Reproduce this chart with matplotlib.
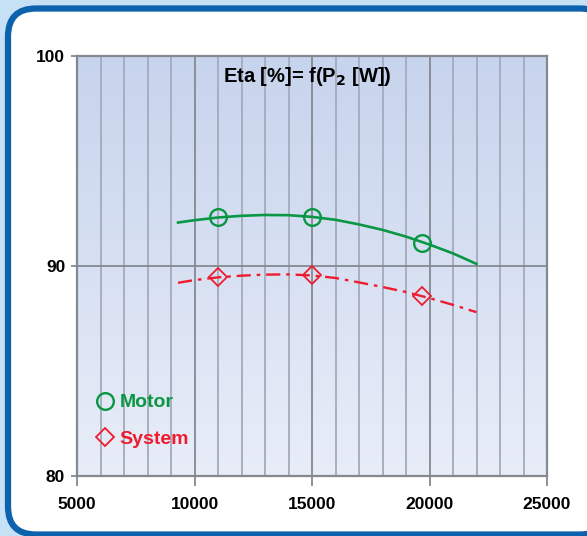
import numpy as np
import matplotlib
matplotlib.use("Agg")
import matplotlib.pyplot as plt
from matplotlib.patches import FancyBboxPatch
from matplotlib.ticker import MultipleLocator

plt.rcParams['font.family'] = ['Liberation Sans', 'DejaVu Sans']
plt.rcParams['font.weight'] = 'bold'

# measured points (P2 [W], Eta [%])
motor_p = [11000, 15000, 19700]
motor_eta = [92.33, 92.33, 91.1]
system_p = [11000, 15000, 19700]
system_eta = [89.48, 89.57, 88.57]

# fitted curves
curve_p = [9300, 10000, 11000, 12000, 13000, 14000, 15000, 16000,
           17000, 18000, 19000, 20000, 21000, 22000]
motor_curve = [92.07, 92.18, 92.31, 92.39, 92.43, 92.42, 92.34, 92.2,
               91.98, 91.72, 91.4, 91.02, 90.6, 90.1]
system_curve = [89.2, 89.33, 89.46, 89.54, 89.59, 89.6, 89.55, 89.43,
                89.22, 89.0, 88.76, 88.47, 88.15, 87.8]

green = '#0a9744'
red = '#ee1c2e'

fig = plt.figure(figsize=(5.87, 5.36), dpi=100)
fig.patch.set_facecolor('#c6e1f5')
frame = FancyBboxPatch((0.08, 0.015), 6.0, 5.26,
                       boxstyle="round,pad=0,rounding_size=0.28",
                       transform=fig.dpi_scale_trans, facecolor='white',
                       edgecolor='#0d62ad', linewidth=4.5, zorder=-5)
fig.patches.append(frame)

ax = fig.add_axes([77/587, 60/536, 470/587, 420/536])
ax.set_zorder(2)
grad = np.linspace(0, 1, 256)[:, None]
ax.imshow(grad, extent=[0, 1, 0, 1], transform=ax.transAxes, aspect='auto',
          cmap=matplotlib.colors.LinearSegmentedColormap.from_list(
              'bg', ['#e8edf8', '#c7d4ed']), origin='lower', zorder=0)

ax.set_xlim(5000, 25000)
ax.set_ylim(80, 100)
ax.xaxis.set_major_locator(MultipleLocator(5000))
ax.xaxis.set_minor_locator(MultipleLocator(1000))
ax.yaxis.set_major_locator(MultipleLocator(10))
ax.set_axisbelow(True)
ax.grid(which='minor', axis='x', color='#a3aabb', linewidth=1.3)
ax.grid(which='major', axis='x', color='#848891', linewidth=1.3)
ax.grid(which='major', axis='y', color='#848891', linewidth=1.3)
ax.tick_params(which='minor', length=0)
ax.tick_params(which='major', direction='out', length=7, width=1.3,
               color='#848891', labelsize=12.5, pad=8)
ax.tick_params(axis='y', length=4.5, pad=4)
for s in ax.spines.values():
    s.set_color('#848891')
    s.set_linewidth(1.6)

ax.plot(curve_p, motor_curve, color=green, linewidth=1.9, zorder=3)
ax.plot(curve_p, system_curve, color=red, linewidth=1.7,
        dashes=(6, 2.5, 1.5, 2.5), zorder=3)
ax.plot(motor_p, motor_eta, linestyle='none', marker='o', markersize=12,
        markerfacecolor='none', markeredgecolor=green, markeredgewidth=1.7,
        color=green, label='Motor', zorder=4)
ax.plot(system_p, system_eta, linestyle='none', marker='D', markersize=9.5,
        markerfacecolor='none', markeredgecolor=red, markeredgewidth=1.3,
        color=red, label='System', zorder=4)

ax.legend(loc='lower left', bbox_to_anchor=(0.006, 0.026), frameon=False,
          labelcolor='linecolor', prop={'size': 14, 'weight': 'bold'},
          handlelength=0.8, handletextpad=0.35, labelspacing=0.95)

ax.text(0.49, 0.952, 'Eta [%]= f(P$_\\mathbf{2}$ [W])', transform=ax.transAxes,
        ha='center', va='center', fontsize=14.5, fontweight='bold')

fig.savefig('out.png', dpi=100, facecolor=fig.get_facecolor())
